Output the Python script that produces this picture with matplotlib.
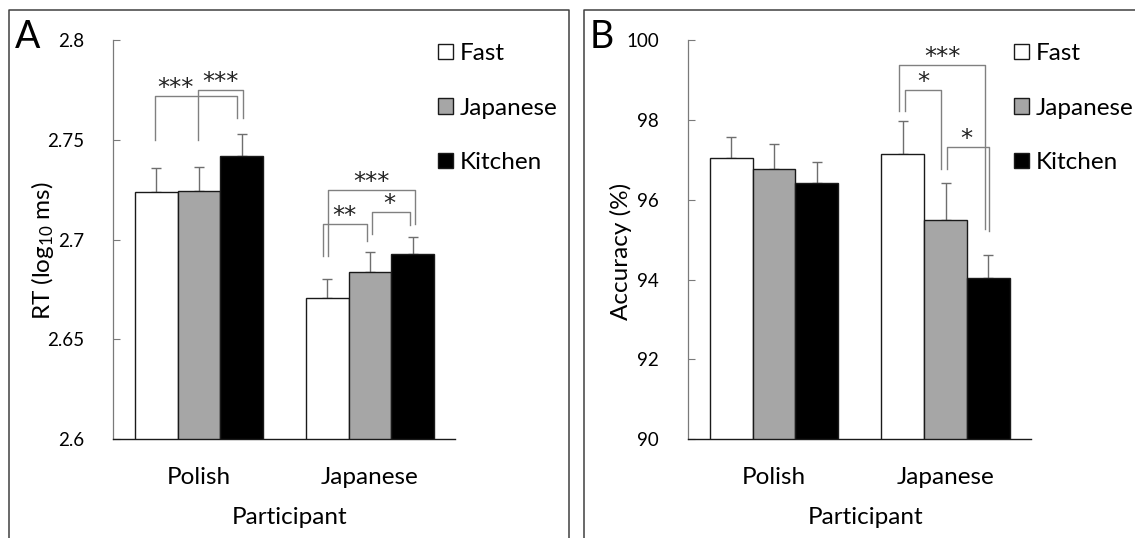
import numpy as np
import matplotlib
matplotlib.use("Agg")
import matplotlib.pyplot as plt
from matplotlib.lines import Line2D

plt.rcParams['font.family'] = ['Lato', 'DejaVu Sans']
plt.rcParams['mathtext.default'] = 'regular'

# data
groups = ['Polish', 'Japanese']
conditions = ['Fast', 'Japanese', 'Kitchen']
colors = ['white', '#a6a6a6', 'black']

rt_mean = [[2.7240, 2.6710], [2.7246, 2.6836], [2.7419, 2.6927]]
rt_err = [[0.0120, 0.0094], [0.0117, 0.0101], [0.0109, 0.0088]]
acc_mean = [[97.04, 97.14], [96.77, 95.49], [96.43, 94.03]]
acc_err = [[0.54, 0.83], [0.64, 0.93], [0.52, 0.60]]

# significance brackets: (x_left, y_left, x_right, y_right, y_top, label, x_txt, y_txt)
rt_sig = [(-0.257, 2.750, 0.224, 2.761, 2.7720, '***', -0.135, 2.7760),
          (-0.008, 2.750, 0.258, 2.761, 2.7750, '***', 0.128, 2.7790),
          (0.726, 2.6918, 0.983, 2.6995, 2.7080, '**', 0.853, 2.7118),
          (1.013, 2.7030, 1.233, 2.7072, 2.7140, '*', 1.116, 2.7178),
          (0.755, 2.6918, 1.262, 2.7080, 2.7248, '***', 1.011, 2.7288)]
acc_sig = [(0.730, 98.23, 1.228, 95.28, 99.38, '***', 0.980, 99.57),
           (0.762, 98.23, 0.976, 96.77, 98.76, '*', 0.871, 98.95),
           (1.008, 96.77, 1.255, 95.21, 97.33, '*', 1.123, 97.52)]

W, H = 1135, 538
fig = plt.figure(figsize=(W / 100, H / 100), dpi=100)


def draw_panel(rect, means, errs, ylim, yticks, yticklabels, sig):
    ax = fig.add_axes(rect)
    x = np.arange(len(groups))
    bw = 0.25
    for i, cond in enumerate(conditions):
        pos = x + (i - 1) * bw
        ax.bar(pos, means[i], bw, color=colors[i], edgecolor='#1a1a1a',
               linewidth=1.0, label=cond, zorder=2)
        ax.errorbar(pos, means[i], yerr=[np.zeros(len(x)), errs[i]], fmt='none',
                    ecolor='#6e6e6e', elinewidth=1.0, capsize=3.5, capthick=1.0,
                    zorder=1)
    for xl, yl, xr, yr, yt, lab, xt, ytt in sig:
        ax.plot([xl, xl, xr, xr], [yl, yt, yt, yr], color='#808080', lw=1.0,
                zorder=3, clip_on=False)
        ax.text(xt, ytt, lab, ha='center', va='center', fontsize=17.5,
                family='DejaVu Sans', color='#222222')
    ax.set_xlim(-0.5, 1.5)
    ax.set_ylim(*ylim)
    ax.set_yticks(yticks)
    ax.set_yticklabels(yticklabels)
    ax.set_xticks(x)
    ax.set_xticklabels(groups, fontsize=17.5)
    ax.tick_params(axis='y', direction='in', length=5, width=0.8,
                   color='#7a7a7a', pad=21, labelsize=13.5)
    ax.tick_params(axis='x', length=0, pad=20)
    for s in ['top', 'right']:
        ax.spines[s].set_visible(False)
    ax.spines['left'].set_color('#7a7a7a')
    ax.spines['bottom'].set_color('#1a1a1a')
    ax.spines['left'].set_linewidth(0.9)
    ax.spines['bottom'].set_linewidth(1.0)
    ax.legend(loc='upper left', bbox_to_anchor=(0.950, 0.993), frameon=False,
              fontsize=17.5, handlelength=0.6, handleheight=0.6,
              handletextpad=0.3, labelspacing=1.38, borderpad=0,
              borderaxespad=0)
    return ax


def fx(px):
    return px / W


def fy(py):
    return 1 - py / H


axA = draw_panel([fx(113.4), fy(439.2), fx(455.4) - fx(113.4), fy(40.3) - fy(439.2)],
                 rt_mean, rt_err, (2.6, 2.8), [2.6, 2.65, 2.7, 2.75, 2.8],
                 ['2.6', '2.65', '2.7', '2.75', '2.8'], rt_sig)
axB = draw_panel([fx(688.2), fy(439.2), fx(1031.3) - fx(688.2), fy(40.3) - fy(439.2)],
                 acc_mean, acc_err, (90, 100), [90, 92, 94, 96, 98, 100],
                 ['90', '92', '94', '96', '98', '100'], acc_sig)

# axis labels
fig.text(fx(42), fy(251), 'RT (log$_{10}$ ms)', rotation=90, ha='center',
         va='center', fontsize=17.5)
fig.text(fx(621), fy(251), 'Accuracy (%)', rotation=90, ha='center',
         va='center', fontsize=17.5)
fig.text(fx(290), fy(518), 'Participant', ha='center', va='center', fontsize=17.5)
fig.text(fx(866), fy(518), 'Participant', ha='center', va='center', fontsize=17.5)

# panel letters
fig.text(fx(15), fy(37), 'A', ha='left', va='center', fontsize=27)
fig.text(fx(590), fy(37), 'B', ha='left', va='center', fontsize=27)

# panel frames
fc = '#404040'
fig.add_artist(Line2D([fx(9), fx(9), fx(568.5), fx(568.5)],
                      [0, fy(9.6), fy(9.6), 0], color=fc, lw=1.1))
fig.add_artist(Line2D([fx(584), fx(584), 1.0],
                      [0, fy(9.6), fy(9.6)], color=fc, lw=1.1))

fig.savefig('out.png', dpi=100)
